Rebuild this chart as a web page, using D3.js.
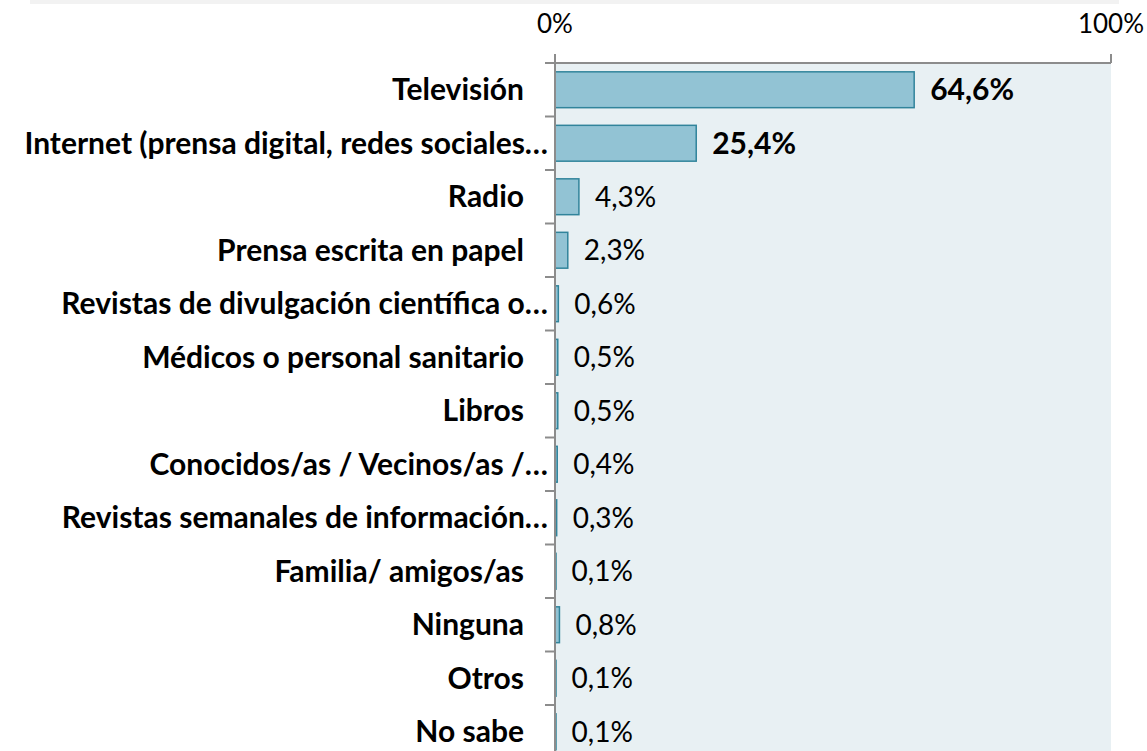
<!DOCTYPE html>
<html>
<head>
<style>
    body { margin: 0; background: #fff; }
    .cat { font-family: Lato, "Open Sans", sans-serif; font-weight: bold; font-size: 30px; fill: #000; }
    .val { font-family: Lato, "Open Sans", sans-serif; font-size: 28px; fill: #000; }
    .tick-lbl { font-family: Lato, "Open Sans", sans-serif; font-size: 26px; fill: #000; }
</style>
</head>
<body>
<svg id="container" width="1147" height="751"></svg>
<script src="https://d3js.org/d3.v7.min.js"></script>
<script>
    // data
    let categories = [
        "Televisión",
        "Internet (prensa digital, redes sociales…",
        "Radio",
        "Prensa escrita en papel",
        "Revistas de divulgación científica o…",
        "Médicos o personal sanitario",
        "Libros",
        "Conocidos/as / Vecinos/as /…",
        "Revistas semanales de información…",
        "Familia/ amigos/as",
        "Ninguna",
        "Otros",
        "No sabe"
    ];
    let values = [64.6, 25.4, 4.3, 2.3, 0.6, 0.5, 0.5, 0.4, 0.3, 0.1, 0.8, 0.1, 0.1];
    let boldValues = [true, true, false, false, false, false, false, false, false, false, false, false, false];
    let tickValues = [0, 100];

    let svg = d3.select("#container");

    // top grey strip
    svg.append("rect")
        .attr("x", 30).attr("y", 0)
        .attr("width", 1089).attr("height", 4)
        .attr("fill", "#f2f2f2");

    let xScale = d3.scaleLinear().domain([0, 100]).range([555, 1111]);
    let yScale = d3.scaleBand()
        .domain(categories)
        .range([63, 63 + 53.5 * categories.length])
        .paddingInner(0.33)
        .paddingOuter(0.165);

    // plot background
    svg.append("rect")
        .attr("x", xScale(0)).attr("y", 63)
        .attr("width", xScale(100) - xScale(0)).attr("height", 751 - 63)
        .attr("fill", "#e8f0f3");

    // bars
    svg.selectAll(".bar")
        .data(values)
        .enter()
        .append("rect")
        .attr("class", "bar")
        .attr("x", xScale(0))
        .attr("y", (d, i) => yScale(categories[i]))
        .attr("width", (d) => Math.max(xScale(d) - xScale(0), 1))
        .attr("height", yScale.bandwidth())
        .attr("fill", "#92c3d4")
        .attr("stroke", "#31849b")
        .attr("stroke-width", 1.5);

    // value labels
    svg.selectAll(".val")
        .data(values)
        .enter()
        .append("text")
        .attr("class", "val")
        .attr("x", (d) => xScale(d) + 16)
        .attr("y", (d, i) => yScale(categories[i]) + yScale.bandwidth() / 2)
        .attr("dy", "0.35em")
        .style("font-weight", (d, i) => boldValues[i] ? "bold" : "normal")
        .style("font-size", (d, i) => boldValues[i] ? "30px" : "28px")
        .text((d) => d.toFixed(1).replace(".", ",") + "%");

    // category axis (left), ticks between bands
    let step = yScale.step();
    let yAxis = svg.append("g");
    yAxis.append("line")
        .attr("x1", xScale(0)).attr("x2", xScale(0))
        .attr("y1", 55).attr("y2", 751)
        .attr("stroke", "#8c8c8c").attr("stroke-width", 2);
    yAxis.selectAll(".ytick")
        .data(d3.range(categories.length + 1))
        .enter()
        .append("line")
        .attr("x1", xScale(0) - 10).attr("x2", xScale(0))
        .attr("y1", (i) => 63 + i * step).attr("y2", (i) => 63 + i * step)
        .attr("stroke", "#8c8c8c").attr("stroke-width", 2);

    // category labels
    svg.selectAll(".cat")
        .data(categories)
        .enter()
        .append("text")
        .attr("class", "cat")
        .attr("x", (d) => d.endsWith("…") ? 548 : 524)
        .attr("y", (d) => yScale(d) + yScale.bandwidth() / 2)
        .attr("dy", "0.35em")
        .attr("text-anchor", "end")
        .text((d) => d);

    // value axis (top)
    let xAxis = svg.append("g");
    xAxis.append("line")
        .attr("x1", xScale(0) - 2).attr("x2", xScale(100))
        .attr("y1", 63).attr("y2", 63)
        .attr("stroke", "#8c8c8c").attr("stroke-width", 2);
    xAxis.selectAll(".xtick")
        .data(tickValues)
        .enter()
        .append("line")
        .attr("x1", (d) => xScale(d)).attr("x2", (d) => xScale(d))
        .attr("y1", 54).attr("y2", 63)
        .attr("stroke", "#8c8c8c").attr("stroke-width", 2);
    xAxis.selectAll(".tick-lbl")
        .data(tickValues)
        .enter()
        .append("text")
        .attr("class", "tick-lbl")
        .attr("x", (d) => xScale(d))
        .attr("y", 24)
        .attr("dy", "0.35em")
        .attr("text-anchor", "middle")
        .text((d) => d + "%");
</script>
</body>
</html>
